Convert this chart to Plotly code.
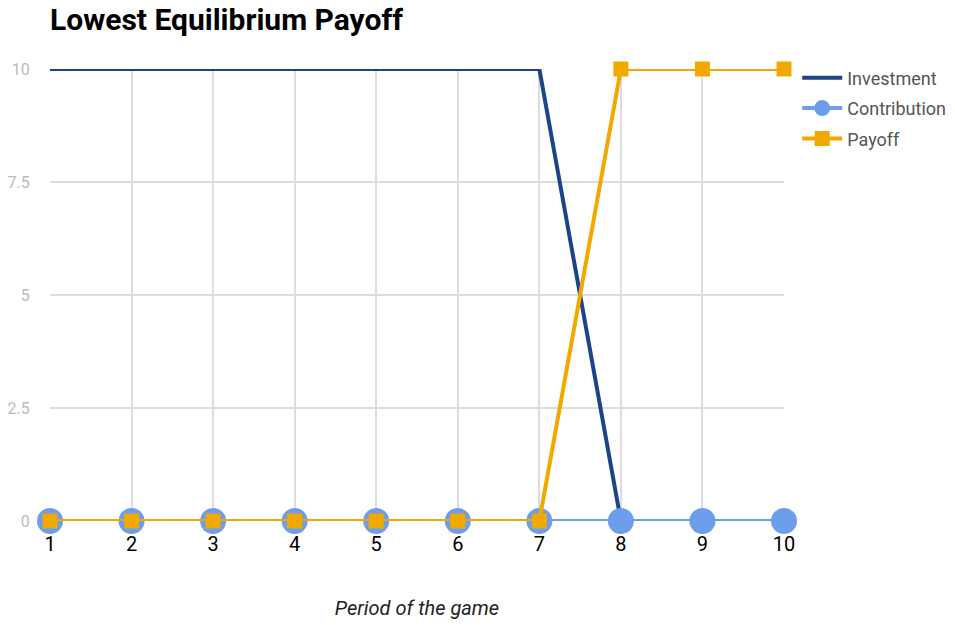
import plotly.graph_objects as go

periods = [1, 2, 3, 4, 5, 6, 7, 8, 9, 10]
investment = [10, 10, 10, 10, 10, 10, 10, 0, 0, 0]
contribution = [0, 0, 0, 0, 0, 0, 0, 0, 0, 0]
payoff = [0, 0, 0, 0, 0, 0, 0, 10, 10, 10]
y_ticks = [0, 2.5, 5, 7.5, 10]
y_tick_text = ["0", "2.5", "5", "7.5", "10"]

fig = go.Figure()
fig.add_trace(go.Scatter(x=periods, y=investment, name="Investment", mode="lines", legendgroup="a",
                         line=dict(color="#1c4587", width=4), cliponaxis=False))
fig.add_trace(go.Scatter(x=periods, y=contribution, name="Contribution", mode="lines+markers",
                         legendgroup="b",
                         line=dict(color="#6d9eeb", width=4),
                         marker=dict(symbol="circle", size=26, color="#6d9eeb"), cliponaxis=False))
fig.add_trace(go.Scatter(x=periods, y=payoff, name="Payoff", mode="lines+markers", legendgroup="c",
                         line=dict(color="#f1a800", width=4),
                         marker=dict(symbol="square", size=15, color="#f1a800"), cliponaxis=False))

fig.update_layout(
    width=955, height=625,
    margin=dict(l=50, r=171, t=69, b=104, autoexpand=False),
    paper_bgcolor="white", plot_bgcolor="white",
    font=dict(family="Roboto", color="#222"),
    title=dict(text="<b>Lowest Equilibrium Payoff</b>", x=50/955, xanchor="left",
               y=1-19/625, yanchor="middle", font=dict(size=30, color="#000", family="Roboto")),
    legend=dict(x=1.018, xref="paper", y=1.021, yanchor="top", xanchor="left",
                font=dict(size=18, color="#555"), tracegroupgap=4, itemwidth=40,
                bgcolor="rgba(0,0,0,0)"),
    showlegend=True,
)
fig.update_xaxes(range=[1, 10], tickvals=periods, showgrid=True, gridcolor="#dddddd", gridwidth=2,
                 zeroline=False, showline=False, tickfont=dict(size=20, color="#000"),
                 ticks="outside", ticklen=5, tickcolor="rgba(0,0,0,0)",
                 title=dict(text="<i>Period of the game</i>", font=dict(size=20, color="#222"), standoff=45))
fig.update_yaxes(range=[0, 10], tickvals=y_ticks, ticktext=y_tick_text, showgrid=True,
                 gridcolor="#dddddd", gridwidth=2, zeroline=False, showline=False,
                 tickfont=dict(size=16, color="#bbbbbb"), ticks="outside", ticklen=16,
                 tickcolor="rgba(0,0,0,0)")

fig.write_html("out.html", config={"displayModeBar": False},
               post_script="document.body.style.margin='0';")
